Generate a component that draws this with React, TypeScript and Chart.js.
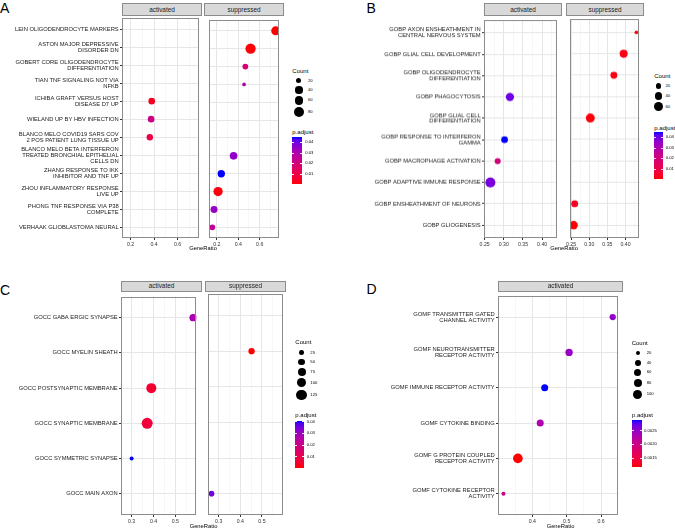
import React, { useEffect, useRef } from "react";
import { Chart, registerables } from "chart.js";
Chart.register(...registerables);

const FONT = '"Liberation Sans", Arial, Helvetica, sans-serif';

// ---------------- Panel A data ----------------
const catsA: (string | string[])[] = [
  "LEIN OLIGODENDROCYTE MARKERS",
  ["ASTON MAJOR DEPRESSIVE", "DISORDER DN"],
  ["GOBERT CORE OLIGODENDROCYTE", "DIFFERENTIATION"],
  ["TIAN TNF SIGNALING NOT VIA", "NFKB"],
  ["ICHIBA GRAFT VERSUS HOST", "DISEASE D7 UP"],
  "WIELAND UP BY HBV INFECTION",
  ["BLANCO MELO COVID19 SARS COV", "2 POS PATIENT LUNG TISSUE UP"],
  ["BLANCO MELO BETA INTERFERON", "TREATED BRONCHIAL EPITHELIAL", "CELLS DN"],
  ["ZHANG RESPONSE TO IKK", "INHIBITOR AND TNF UP"],
  ["ZHOU INFLAMMATORY RESPONSE", "LIVE UP"],
  ["PHONG TNF RESPONSE VIA P38", "COMPLETE"],
  "VERHAAK GLIOBLASTOMA NEURAL",
];
const groupA = ["suppressed", "suppressed", "suppressed", "suppressed", "activated", "activated", "activated", "suppressed", "suppressed", "suppressed", "suppressed", "suppressed"];
const ratioA = [0.75, 0.515, 0.466, 0.454, 0.38, 0.375, 0.364, 0.356, 0.241, 0.211, 0.173, 0.157];
const countA = [65, 84, 26, 11, 35, 35, 33, 47, 43, 69, 39, 26];
const padjA = [0.0005, 0.001, 0.018, 0.028, 0.004, 0.022, 0.009, 0.035, 0.0447, 0.0015, 0.034, 0.024];
const facetsA = ["activated", "suppressed"];
const xTicksA = [0.2, 0.4, 0.6];
const xTickLabelsA = ["0.2", "0.4", "0.6"];
const countBreaksA = [20, 40, 60, 80];
const padjBreaksA = [0.01, 0.02, 0.03, 0.04];
const padjLabelsA = ["0.01", "0.02", "0.03", "0.04"];

// ---------------- Panel B data ----------------
const catsB: (string | string[])[] = [
  ["GOBP AXON ENSHEATHMENT IN", "CENTRAL NERVOUS SYSTEM"],
  "GOBP GLIAL CELL DEVELOPMENT",
  ["GOBP OLIGODENDROCYTE", "DIFFERENTIATION"],
  "GOBP PHAGOCYTOSIS",
  ["GOBP GLIAL CELL", "DIFFERENTIATION"],
  ["GOBP RESPONSE TO INTERFERON", "GAMMA"],
  "GOBP MACROPHAGE ACTIVATION",
  "GOBP ADAPTIVE IMMUNE RESPONSE",
  "GOBP ENSHEATHMENT OF NEURONS",
  "GOBP GLIOGENESIS",
];
const groupB = ["suppressed", "suppressed", "suppressed", "activated", "suppressed", "activated", "activated", "activated", "suppressed", "suppressed"];
const ratioB = [0.43, 0.395, 0.368, 0.316, 0.303, 0.302, 0.284, 0.265, 0.26, 0.257];
const countB = [10, 48, 36, 52, 60, 33, 27, 75, 36, 52];
const padjB = [0.0005, 0.002, 0.002, 0.04, 0.001, 0.045, 0.02, 0.039, 0.003, 0.0003];
const facetsB = ["activated", "suppressed"];
const xTicksB = [0.25, 0.3, 0.35, 0.4];
const xTickLabelsB = ["0.25", "0.30", "0.35", "0.40"];
const countBreaksB = [20, 40, 60];
const padjBreaksB = [0.01, 0.02, 0.03, 0.04];
const padjLabelsB = ["0.01", "0.02", "0.03", "0.04"];

// ---------------- Panel C data ----------------
const catsC: (string | string[])[] = [
  "GOCC GABA ERGIC SYNAPSE",
  "GOCC MYELIN SHEATH",
  "GOCC POSTSYNAPTIC MEMBRANE",
  "GOCC SYNAPTIC MEMBRANE",
  "GOCC SYMMETRIC SYNAPSE",
  "GOCC MAIN AXON",
];
const groupC = ["activated", "suppressed", "activated", "activated", "activated", "suppressed"];
const ratioC = [0.581, 0.452, 0.39, 0.371, 0.3, 0.267];
const countC = [61, 45, 113, 137, 18, 36];
const padjC = [0.028, 0.0006, 0.006, 0.007, 0.0409, 0.036];
const facetsC = ["activated", "suppressed"];
const xTicksC = [0.3, 0.4, 0.5];
const xTickLabelsC = ["0.3", "0.4", "0.5"];
const countBreaksC = [25, 50, 75, 100, 125];
const padjBreaksC = [0.01, 0.02, 0.03, 0.04];
const padjLabelsC = ["0.01", "0.02", "0.03", "0.04"];

// ---------------- Panel D data ----------------
const catsD: (string | string[])[] = [
  ["GOMF TRANSMITTER GATED", "CHANNEL ACTIVITY"],
  ["GOMF NEUROTRANSMITTER", "RECEPTOR ACTIVITY"],
  "GOMF IMMUNE RECEPTOR ACTIVITY",
  "GOMF CYTOKINE BINDING",
  ["GOMF G PROTEIN COUPLED", "RECEPTOR ACTIVITY"],
  ["GOMF CYTOKINE RECEPTOR", "ACTIVITY"],
];
const groupD = ["activated", "activated", "activated", "activated", "activated", "activated"];
const ratioD = [0.634, 0.507, 0.436, 0.423, 0.358, 0.316];
const countD = [47, 64, 58, 58, 110, 19];
const padjD = [0.0025, 0.00245, 0.00288, 0.0023, 0.00116, 0.002];
const facetsD = ["activated"];
const xTicksD = [0.4, 0.5, 0.6];
const xTickLabelsD = ["0.4", "0.5", "0.6"];
const countBreaksD = [20, 40, 60, 80, 100];
const padjBreaksD = [0.0015, 0.002, 0.0025];
const padjLabelsD = ["0.0015", "0.0020", "0.0025"];

// ---------------- colour ramp (Lab interpolation red -> blue) ----------------
type V3 = [number, number, number];
const toLin = (c: number) => {
  c /= 255;
  return c <= 0.04045 ? c / 12.92 : Math.pow((c + 0.055) / 1.055, 2.4);
};
const toSrgb = (c: number) => {
  const v = c <= 0.0031308 ? 12.92 * c : 1.055 * Math.pow(c, 1 / 2.4) - 0.055;
  return Math.round(Math.min(1, Math.max(0, v)) * 255);
};
const XN = 0.95047, YN = 1.0, ZN = 1.08883;
function rgb2lab(rgb: V3): V3 {
  const R = toLin(rgb[0]), G = toLin(rgb[1]), B = toLin(rgb[2]);
  const X = (0.4124564 * R + 0.3575761 * G + 0.1804375 * B) / XN;
  const Y = (0.2126729 * R + 0.7151522 * G + 0.072175 * B) / YN;
  const Z = (0.0193339 * R + 0.119192 * G + 0.9503041 * B) / ZN;
  const f = (t: number) => (t > 0.008856 ? Math.cbrt(t) : 7.787 * t + 16 / 116);
  const fx = f(X), fy = f(Y), fz = f(Z);
  return [116 * fy - 16, 500 * (fx - fy), 200 * (fy - fz)];
}
function lab2rgb(lab: V3): V3 {
  const fy = (lab[0] + 16) / 116;
  const fx = fy + lab[1] / 500;
  const fz = fy - lab[2] / 200;
  const inv = (t: number) => (t * t * t > 0.008856 ? t * t * t : (t - 16 / 116) / 7.787);
  const X = XN * inv(fx), Y = YN * inv(fy), Z = ZN * inv(fz);
  const R = 3.2404542 * X - 1.5371385 * Y - 0.4985314 * Z;
  const G = -0.969266 * X + 1.8760108 * Y + 0.041556 * Z;
  const B = 0.0556434 * X - 0.2040259 * Y + 1.0572252 * Z;
  return [toSrgb(R), toSrgb(G), toSrgb(B)];
}
const LAB_LOW = rgb2lab([255, 0, 0]);
const LAB_HIGH = rgb2lab([0, 0, 255]);
function ramp(t: number): string {
  const u = Math.min(1, Math.max(0, t));
  const lab: V3 = [0, 1, 2].map((k) => LAB_LOW[k] + (LAB_HIGH[k] - LAB_LOW[k]) * u) as V3;
  const c = lab2rgb(lab);
  return `rgb(${c[0]},${c[1]},${c[2]})`;
}

// ---------------- types & layout ----------------
type PanelData = {
  cats: (string | string[])[];
  group: string[];
  ratio: number[];
  count: number[];
  padj: number[];
  facets: string[];
  xTicks: number[];
  xTickLabels: string[];
  countBreaks: number[];
  padjBreaks: number[];
  padjLabels: string[];
};
type FacetLayout = { canvasLeft: number; areaLeft: number; areaRight: number };
type PanelLayout = {
  facets: FacetLayout[];
  stripTop: number;
  plotTop: number;
  plotBottom: number;
  k: number;
  titleY: number;
  letter: { text: string; x: number; y: number };
  count: { x: number; y: number; keyX: number; labelX: number; keyYs: number[] };
  padj: { x: number; y: number; barX: number; barY: number; barW: number; barH: number; labelX: number };
};

const layoutA: PanelLayout = {
  facets: [
    { canvasLeft: 0, areaLeft: 122, areaRight: 202 },
    { canvasLeft: 204, areaLeft: 204, areaRight: 284 },
  ],
  stripTop: 3.3, plotTop: 15, plotBottom: 238, k: 0.56, titleY: 249,
  letter: { text: "A", x: 0, y: 0.5 },
  count: { x: 292.3, y: 71, keyX: 299, labelX: 308, keyYs: [80.7, 90, 100.3, 112] },
  padj: { x: 292.3, y: 132, barX: 292.3, barY: 137.3, barW: 9.7, barH: 46.7, labelX: 305.3 },
};
const layoutB: PanelLayout = {
  facets: [
    { canvasLeft: 360, areaLeft: 484, areaRight: 562 },
    { canvasLeft: 566, areaLeft: 566, areaRight: 644 },
  ],
  stripTop: 3.3, plotTop: 15, plotBottom: 237.5, k: 0.58, titleY: 249,
  letter: { text: "B", x: 366.5, y: 0.5 },
  count: { x: 654.3, y: 76, keyX: 658.7, labelX: 665.5, keyYs: [86, 96, 106.7] },
  padj: { x: 654.3, y: 127.7, barX: 654.3, barY: 132, barW: 8.7, barH: 47.3, labelX: 665.7 },
};
const layoutC: PanelLayout = {
  facets: [
    { canvasLeft: 0, areaLeft: 121, areaRight: 202 },
    { canvasLeft: 205, areaLeft: 205, areaRight: 286 },
  ],
  stripTop: 280.7, plotTop: 291, plotBottom: 515, k: 0.47, titleY: 526.7,
  letter: { text: "C", x: 0, y: 282.5 },
  count: { x: 295.3, y: 342.3, keyX: 301.7, labelX: 310.3, keyYs: [352.7, 362, 372, 382.7, 395] },
  padj: { x: 295.3, y: 415.3, barX: 295.3, barY: 420.7, barW: 8.7, barH: 47, labelX: 306.7 },
};
const layoutD: PanelLayout = {
  facets: [{ canvasLeft: 360, areaLeft: 498, areaRight: 623 }],
  stripTop: 280.7, plotTop: 291, plotBottom: 515, k: 0.46, titleY: 526.7,
  letter: { text: "D", x: 366.5, y: 281.5 },
  count: { x: 631.7, y: 343.3, keyX: 637.7, labelX: 646.7, keyYs: [353.3, 362.7, 372.3, 382.7, 394.3] },
  padj: { x: 632, y: 415, barX: 632, barY: 420.3, barW: 9.7, barH: 47, labelX: 644 },
};

const panels: { d: PanelData; L: PanelLayout }[] = [
  { d: { cats: catsA, group: groupA, ratio: ratioA, count: countA, padj: padjA, facets: facetsA, xTicks: xTicksA, xTickLabels: xTickLabelsA, countBreaks: countBreaksA, padjBreaks: padjBreaksA, padjLabels: padjLabelsA }, L: layoutA },
  { d: { cats: catsB, group: groupB, ratio: ratioB, count: countB, padj: padjB, facets: facetsB, xTicks: xTicksB, xTickLabels: xTickLabelsB, countBreaks: countBreaksB, padjBreaks: padjBreaksB, padjLabels: padjLabelsB }, L: layoutB },
  { d: { cats: catsC, group: groupC, ratio: ratioC, count: countC, padj: padjC, facets: facetsC, xTicks: xTicksC, xTickLabels: xTickLabelsC, countBreaks: countBreaksC, padjBreaks: padjBreaksC, padjLabels: padjLabelsC }, L: layoutC },
  { d: { cats: catsD, group: groupD, ratio: ratioD, count: countD, padj: padjD, facets: facetsD, xTicks: xTicksD, xTickLabels: xTickLabelsD, countBreaks: countBreaksD, padjBreaks: padjBreaksD, padjLabels: padjLabelsD }, L: layoutD },
];

const BORDER = "#8c8c8c";

const panelBorder = {
  id: "panelBorder",
  afterDatasetsDraw(chart: any) {
    const { ctx, chartArea } = chart;
    const { left, top, right, bottom } = chartArea;
    ctx.save();
    ctx.strokeStyle = BORDER;
    ctx.lineWidth = 1;
    ctx.strokeRect(Math.round(left) + 0.5, Math.round(top) + 0.5, Math.round(right - left) - 1, Math.round(bottom - top) - 1);
    ctx.restore();
  },
};

const AXIS_H = 12;

function Facet({ d, L, f, name }: { d: PanelData; L: PanelLayout; f: FacetLayout; name: string }) {
  const ref = useRef<HTMLCanvasElement | null>(null);
  const width = f.areaRight - f.canvasLeft;
  const height = L.plotBottom - L.plotTop + AXIS_H;
  const yW = f.areaLeft - f.canvasLeft;
  useEffect(() => {
    const canvas = ref.current;
    if (!canvas) return;
    const lo = Math.min(...d.ratio);
    const hi = Math.max(...d.ratio);
    const pad = 0.05 * (hi - lo);
    const xmin = lo - pad;
    const xmax = hi + pad;
    const pmin = Math.min(...d.padj);
    const pmax = Math.max(...d.padj);
    const idx = d.group.map((g, i) => (g === name ? i : -1)).filter((i) => i >= 0);
    const pts = idx.map((i) => ({ x: d.ratio[i], y: i, r: L.k * Math.sqrt(d.count[i]) }));
    const cols = idx.map((i) => ramp((d.padj[i] - pmin) / (pmax - pmin)));
    const step = d.xTicks[1] - d.xTicks[0];
    const minors = [d.xTicks[0] - step / 2, ...d.xTicks.map((v) => v + step / 2)].filter(
      (v) => v >= xmin - 1e-9 && v <= xmax + 1e-9
    );
    const majorIdx = (v: number) => d.xTicks.findIndex((m) => Math.abs(m - v) < 1e-9);
    const xAll = [...d.xTicks, ...minors].sort((a, b) => a - b);
    const showY = yW > 0;
    const n = d.cats.length;
    const chart = new Chart(canvas, {
      type: "bubble",
      data: {
        datasets: [
          {
            data: pts,
            backgroundColor: cols,
            hoverBackgroundColor: cols,
            borderWidth: 0,
            hoverBorderWidth: 0,
            hoverRadius: 0,
            clip: 0,
          } as any,
        ],
      },
      options: {
        animation: false,
        responsive: false,
        maintainAspectRatio: false,
        devicePixelRatio: 1,
        events: [],
        layout: { padding: 0 },
        plugins: { legend: { display: false }, tooltip: { enabled: false }, title: { display: false } },
        scales: {
          x: {
            type: "linear",
            position: "bottom",
            min: xmin,
            max: xmax,
            bounds: "data",
            afterBuildTicks: (s: any) => {
              s.ticks = xAll.map((v) => ({ value: v }));
            },
            afterFit: (s: any) => {
              s.height = AXIS_H;
              s.paddingLeft = 0;
              s.paddingRight = 0;
              s.paddingTop = 0;
              s.paddingBottom = 0;
            },
            grid: {
              color: (c: any) => (c.tick && majorIdx(c.tick.value) < 0 ? "#F2F2F2" : "#E6E6E6"),
              lineWidth: (c: any) => (c.tick && majorIdx(c.tick.value) < 0 ? 0.6 : 1),
              tickColor: (c: any) => (c.tick && majorIdx(c.tick.value) < 0 ? "rgba(0,0,0,0)" : "#333333"),
              tickLength: 2,
              drawTicks: true,
            },
            border: { display: false },
            ticks: {
              autoSkip: false,
              maxRotation: 0,
              minRotation: 0,
              padding: 1,
              color: "#333333",
              font: { family: FONT, size: 5.2 },
              callback: (v: any) => {
                const k = majorIdx(Number(v));
                return k >= 0 ? d.xTickLabels[k] : "";
              },
            },
          },
          y: {
            type: "linear",
            reverse: true,
            min: -0.6,
            max: n - 0.4,
            bounds: "data",
            afterBuildTicks: (s: any) => {
              s.ticks = d.cats.map((_, i) => ({ value: i }));
            },
            afterFit: (s: any) => {
              s.width = yW;
              s.paddingTop = 0;
              s.paddingBottom = 0;
              s.paddingLeft = 0;
              s.paddingRight = 0;
            },
            grid: {
              color: "#E6E6E6",
              lineWidth: 1,
              drawTicks: showY,
              tickLength: 2,
              tickColor: "#333333",
            },
            border: { display: false },
            ticks: {
              display: showY,
              autoSkip: false,
              padding: 1.3,
              color: "#222222",
              font: { family: FONT, size: 5.8, lineHeight: 1 },
              callback: (v: any) => d.cats[Math.round(Number(v))] ?? "",
            },
          },
        },
      } as any,
      plugins: [panelBorder],
    });
    return () => chart.destroy();
  }, []);
  return (
    <canvas
      ref={ref}
      width={width}
      height={height}
      style={{ position: "absolute", left: f.canvasLeft, top: L.plotTop, width, height }}
    />
  );
}

function Txt({ x, y, size, children, center, color }: any) {
  return (
    <div
      style={{
        position: "absolute",
        left: x,
        top: y,
        transform: center ? "translate(-50%,-50%)" : "translateY(-50%)",
        fontSize: size,
        lineHeight: 1,
        whiteSpace: "nowrap",
        color: color || "#000",
        fontFamily: FONT,
      }}
    >
      {children}
    </div>
  );
}

function Legend({ d, L }: { d: PanelData; L: PanelLayout }) {
  const pmin = Math.min(...d.padj);
  const pmax = Math.max(...d.padj);
  const stops = Array.from({ length: 21 }, (_, i) => `${ramp(i / 20)} ${i * 5}%`).join(", ");
  const P = L.padj;
  return (
    <>
      <Txt x={L.count.x} y={L.count.y} size={6}>Count</Txt>
      {d.countBreaks.map((b, i) => {
        const r = L.k * Math.sqrt(b);
        return (
          <React.Fragment key={"c" + b}>
            <div
              style={{
                position: "absolute",
                left: L.count.keyX - r,
                top: L.count.keyYs[i] - r,
                width: 2 * r,
                height: 2 * r,
                borderRadius: "50%",
                background: "#000",
              }}
            />
            <Txt x={L.count.labelX} y={L.count.keyYs[i]} size={4.2}>{String(b)}</Txt>
          </React.Fragment>
        );
      })}
      <Txt x={P.x} y={P.y} size={6}>p.adjust</Txt>
      <div
        style={{
          position: "absolute",
          left: P.barX,
          top: P.barY,
          width: P.barW,
          height: P.barH,
          background: `linear-gradient(to top, ${stops})`,
        }}
      />
      {d.padjBreaks.map((b, i) => {
        const y = P.barY + P.barH * (1 - (b - pmin) / (pmax - pmin));
        return (
          <React.Fragment key={"p" + i}>
            <div style={{ position: "absolute", left: P.barX, top: y - 0.3, width: P.barW / 5, height: 0.6, background: "rgba(255,255,255,0.9)" }} />
            <div style={{ position: "absolute", left: P.barX + P.barW - P.barW / 5, top: y - 0.3, width: P.barW / 5, height: 0.6, background: "rgba(255,255,255,0.9)" }} />
            <Txt x={P.labelX} y={y} size={4.2}>{d.padjLabels[i]}</Txt>
          </React.Fragment>
        );
      })}
    </>
  );
}

function Panel({ d, L }: { d: PanelData; L: PanelLayout }) {
  const first = L.facets[0];
  const last = L.facets[L.facets.length - 1];
  const titleX = (first.areaLeft + last.areaRight) / 2;
  return (
    <>
      <div style={{ position: "absolute", left: L.letter.x, top: L.letter.y, fontSize: 14, lineHeight: 1, fontFamily: FONT, color: "#000" }}>
        {L.letter.text}
      </div>
      {L.facets.map((f, i) => (
        <React.Fragment key={i}>
          <div
            style={{
              position: "absolute",
              left: f.areaLeft,
              top: L.stripTop,
              width: f.areaRight - f.areaLeft,
              height: L.plotTop - L.stripTop + 1,
              boxSizing: "border-box",
              border: `1px solid ${BORDER}`,
              background: "#D9D9D9",
            }}
          />
          <Txt x={(f.areaLeft + f.areaRight) / 2} y={(L.stripTop + L.plotTop) / 2 + 0.5} size={6.4} center color="#1A1A1A">
            {d.facets[i]}
          </Txt>
          <Facet d={d} L={L} f={f} name={d.facets[i]} />
        </React.Fragment>
      ))}
      <Txt x={titleX} y={L.titleY} size={5.8} center>GeneRatio</Txt>
      <Legend d={d} L={L} />
    </>
  );
}

export default function App() {
  return (
    <div
      style={{
        position: "fixed",
        left: 0,
        top: 0,
        width: 675,
        height: 529,
        overflow: "hidden",
        background: "#fff",
        fontFamily: FONT,
      }}
    >
      {panels.map((p, i) => (
        <Panel key={i} d={p.d} L={p.L} />
      ))}
    </div>
  );
}
